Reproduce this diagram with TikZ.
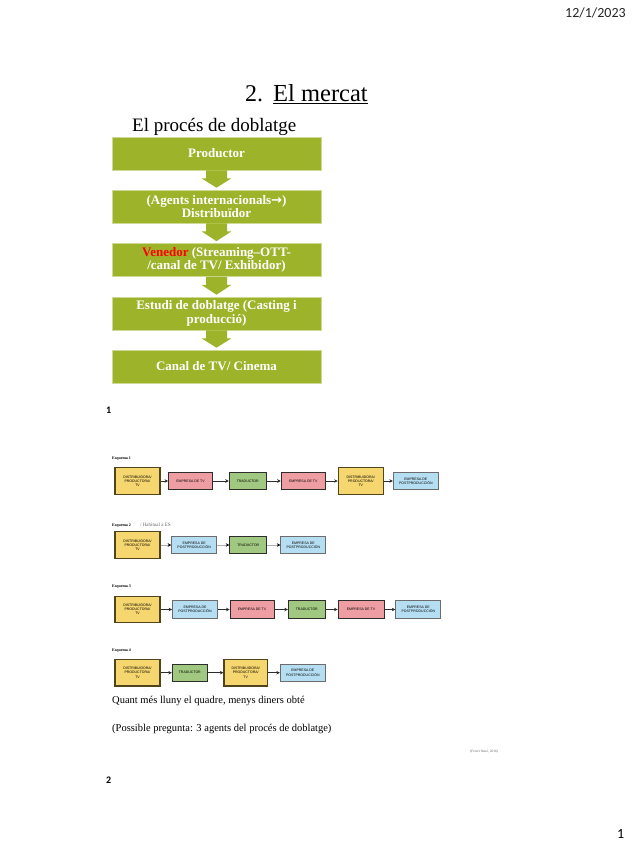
\documentclass[tikz,border=0pt]{standalone}
\usepackage{fontspec}
\setmainfont{Liberation Serif}
\newfontfamily\carlfont{Carlito}
\newfontfamily\sansf{Liberation Sans}
\newfontfamily\arrfont{DejaVu Sans}
\usetikzlibrary{arrows.meta,calc}
\definecolor{olv}{RGB}{157,180,42}
\definecolor{olvedge}{RGB}{205,218,150}
\definecolor{ylw}{RGB}{246,214,110}
\definecolor{ylwedge}{RGB}{80,68,30}
\definecolor{pnk}{RGB}{238,158,162}
\definecolor{grn}{RGB}{160,200,128}
\definecolor{blu}{RGB}{182,222,242}
\definecolor{dk}{RGB}{45,45,45}
\definecolor{lg}{RGB}{175,175,175}
\tikzset{
  gstep/.style={fill=olv, draw=olvedge, line width=0.6pt, minimum width=209pt, minimum height=33pt,
    text=white, font=\bfseries\fontsize{13}{13.5}\selectfont, align=center, inner sep=0pt},
  small/.style={font=\sansf\fontsize{3.5}{4.2}\selectfont, align=center, inner sep=0pt, text=black},
  ybox/.style={small, fill=ylw, draw=ylwedge, line width=1.2pt, minimum width=45pt, minimum height=26.5pt},
  pbox/.style={small, fill=pnk, draw=dk, line width=0.9pt, minimum width=44pt, minimum height=17.5pt},
  gbx/.style={small, fill=grn, draw=dk, line width=0.9pt, minimum width=37pt, minimum height=17.5pt},
  bbox/.style={small, fill=blu, draw=dk!70, line width=0.9pt, minimum width=45pt, minimum height=17.5pt},
  conn/.style={draw=dk, line width=0.8pt, -{Stealth[length=3.5pt,width=3.5pt]}},
  lconn/.style={draw=lg, line width=0.8pt, -{Stealth[length=3.5pt,width=3.5pt,color=black]}},
  lbl/.style={font=\bfseries\fontsize{4}{4}\selectfont, anchor=base west, inner sep=0pt},
  txt/.style={anchor=base west, inner sep=0pt}
}
\newcommand{\downarrowbox}[2]{%
  \fill[olv] ($(#1.south)+(-10.5,0)$) -- ($(#1.south)+(-10.5,8)$) -- ($(#1.south)+(-15,8)$)
    -- ($(#2.north)+(0,-2)$) -- ($(#1.south)+(15,8)$) -- ($(#1.south)+(10.5,8)$)
    -- ($(#1.south)+(10.5,0)$) -- cycle;}
\begin{document}
\begin{tikzpicture}[x=1pt,y=-1pt]
\useasboundingbox[fill=white] (0,0) rectangle (636,848);

% header
\node[txt, font=\carlfont\fontsize{14}{14}\selectfont, text=black!85] (date) at (565,18) {12/1/2023};
\node[txt, font=\fontsize{24}{24}\selectfont] (num) at (245,102) {2.};
\node[txt, font=\fontsize{24.5}{24.5}\selectfont] (ttl) at (273,102) {\underline{El mercat}};
\node[txt, font=\fontsize{19}{19}\selectfont] (sub) at (132,131.5) {El procés de doblatge};

% flow
\node[gstep] (p1) at (216.5,153.5) {Productor};
\node[gstep] (p2) at (216.5,206.5) {(Agents internacionals{\arrfont\bfseries →})\\Distribuïdor};
\node[gstep] (p3) at (216.5,260) {\textcolor{red}{Venedor} (Streaming–OTT-\\/canal de TV/ Exhibidor)};
\node[gstep] (p4) at (216.5,313.5) {Estudi de doblatge (Casting i\\producció)};
\node[gstep] (p5) at (216.5,366.5) {Canal de TV/ Cinema};
\downarrowbox{p1}{p2}
\downarrowbox{p2}{p3}
\downarrowbox{p3}{p4}
\downarrowbox{p4}{p5}

\node[txt, font=\carlfont\bfseries\fontsize{10}{10}\selectfont] (pg1) at (106,413) {1};

% Esquema 1
\node[lbl] (l1) at (112,459) {Esquema 1};
\node[ybox] (a1) at (137.5,481) {DISTRIBUIDORA/\\PRODUCTORA/\\TV};
\node[pbox] (b1) at (190.5,481) {EMPRESA DE TV};
\node[gbx] (c1) at (247.7,481) {TRADUCTOR};
\node[pbox] (d1) at (303.2,481) {EMPRESA DE TV};
\node[ybox] (e1) at (360.8,481) {DISTRIBUIDORA/\\PRODUCTORA/\\TV};
\node[bbox] (f1) at (415.8,481) {EMPRESA DE\\POSTPRODUCCIÓN};
\draw[conn] (a1) -- (b1);
\draw[conn] (b1) -- (c1);
\draw[conn] (c1) -- (d1);
\draw[conn] (d1) -- (e1);
\draw[conn] (e1) -- (f1);

% Esquema 2
\node[lbl] (l2) at (112,526) {Esquema 2};
\node[txt, font=\fontsize{5}{5}\selectfont, text=black!60] (l2b) at (140,526) {/ Habitual a ES};
\node[ybox] (a2) at (137.5,545) {DISTRIBUIDORA/\\PRODUCTORA/\\TV};
\node[bbox] (b2) at (194.2,545) {EMPRESA DE\\POSTPRODUCCIÓN};
\node[gbx] (c2) at (248.3,545) {TRADUCTOR};
\node[bbox] (d2) at (303.3,545) {EMPRESA DE\\POSTPRODUCCIÓN};
\draw[lconn] (a2) -- (b2);
\draw[lconn] (b2) -- (c2);
\draw[lconn] (c2) -- (d2);

% Esquema 3
\node[lbl] (l3) at (112,587) {Esquema 3};
\node[ybox] (a3) at (137.5,609.5) {DISTRIBUIDORA/\\PRODUCTORA/\\TV};
\node[bbox] (b3) at (195,609.5) {EMPRESA DE\\POSTPRODUCCIÓN};
\node[pbox] (c3) at (252,609.5) {EMPRESA DE TV};
\node[gbx] (d3) at (306.8,609.5) {TRADUCTOR};
\node[pbox, minimum width=46pt] (e3) at (361,609.5) {EMPRESA DE TV};
\node[bbox] (f3) at (418.3,609.5) {EMPRESA DE\\POSTPRODUCCIÓN};
\draw[conn] (a3) -- (b3);
\draw[conn] (b3) -- (c3);
\draw[conn] (c3) -- (d3);
\draw[conn] (d3) -- (e3);
\draw[conn] (e3) -- (f3);

% Esquema 4
\node[lbl] (l4) at (112,651) {Esquema 4};
\node[ybox] (a4) at (137.5,672.7) {DISTRIBUIDORA/\\PRODUCTORA/\\TV};
\node[gbx, minimum width=35pt] (b4) at (189.8,672.7) {TRADUCTOR};
\node[ybox, minimum width=43.3pt] (c4) at (245.7,672.7) {DISTRIBUIDORA/\\PRODUCTORA/\\TV};
\node[bbox] (d4) at (302.8,672.7) {EMPRESA DE\\POSTPRODUCCIÓN};
\draw[conn] (a4) -- (b4);
\draw[conn] (b4) -- (c4);
\draw[conn] (c4) -- (d4);

% notes
\node[txt, font=\fontsize{10.5}{10.5}\selectfont] (n1) at (112,703) {Quant més lluny el quadre, menys diners obté};
\node[txt, font=\fontsize{10.5}{10.5}\selectfont] (n2) at (112,731) {(Possible pregunta: 3 agents del procés de doblatge)};
\node[txt, font=\fontsize{3.5}{3.5}\selectfont, text=black!60] (cite) at (470,752) {(Ferrer Simó, 2016)};

\node[txt, font=\carlfont\bfseries\fontsize{10}{10}\selectfont] (pg2) at (106,783) {2};
\node[txt, font=\carlfont\fontsize{14}{14}\selectfont] (pg) at (617,838) {1};
\end{tikzpicture}
\end{document}
